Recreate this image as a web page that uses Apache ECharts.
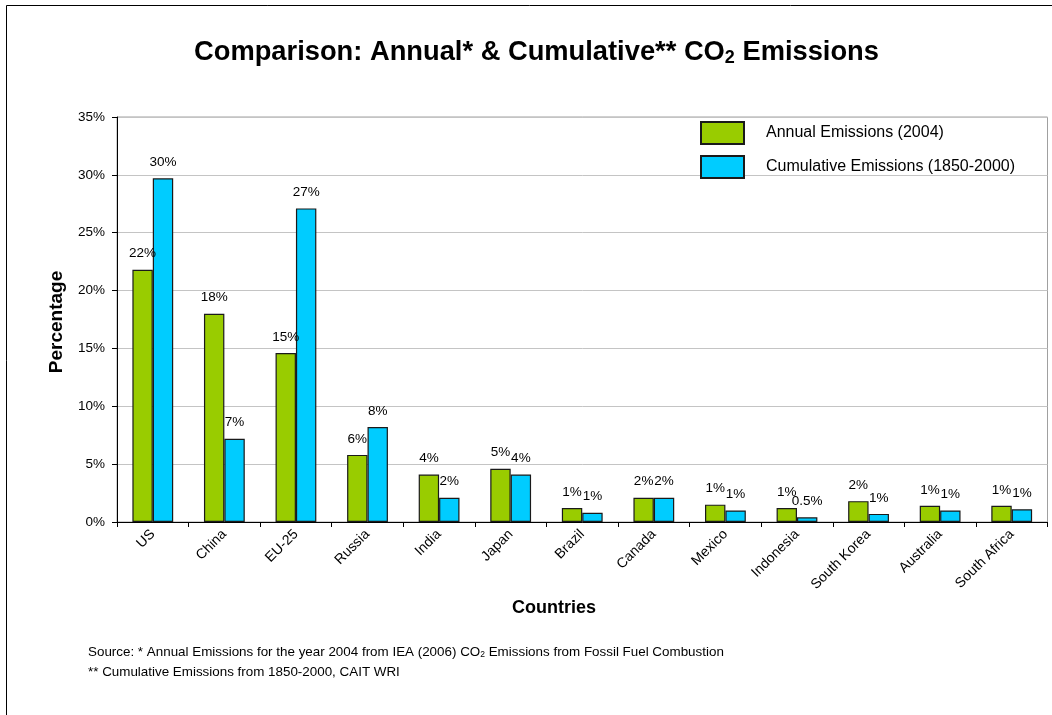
<!DOCTYPE html>
<html>
<head>
<meta charset="utf-8">
<script src="https://cdn.jsdelivr.net/npm/echarts@6/dist/echarts.min.js"></script>
<style>
html,body{margin:0;padding:0;background:#fff;}
#chart{width:1052px;height:715px;}
</style>
</head>
<body>
<div id="chart"></div>
<script>
const countries = ['US','China','EU-25','Russia','India','Japan','Brazil','Canada','Mexico','Indonesia','South Korea','Australia','South Africa'];
const annual = [21.8, 18.0, 14.6, 5.8, 4.1, 4.6, 1.2, 2.1, 1.5, 1.2, 1.8, 1.4, 1.4];
const cumulative = [29.7, 7.2, 27.1, 8.2, 2.1, 4.1, 0.8, 2.1, 1.0, 0.4, 0.7, 1.0, 1.1];
const annualLabels = ['22%','18%','15%','6%','4%','5%','1%','2%','1%','1%','2%','1%','1%'];
const cumulativeLabels = ['30%','7%','27%','8%','2%','4%','1%','2%','1%','0.5%','1%','1%','1%'];
const yTicks = [0, 5, 10, 15, 20, 25, 30, 35];

const FONT = 'Liberation Sans, Arial, sans-serif';
const chart = echarts.init(document.getElementById('chart'), null, {renderer: 'canvas'});

const option = {
  backgroundColor: '#fff',
  animation: false,
  textStyle: {fontFamily: FONT},
  title: {
    text: 'Comparison: Annual* & Cumulative** CO{sub|2} Emissions',
    left: 189,
    top: 32,
    textStyle: {
      fontFamily: FONT, fontSize: 27.3, fontWeight: 'bold', color: '#000',
      rich: {sub: {fontFamily: FONT, fontSize: 18, fontWeight: 'bold', color: '#000', padding: [12, 0, 0, 0]}}
    }
  },
  legend: {
    orient: 'vertical',
    left: 700,
    top: 121,
    itemWidth: 43,
    itemHeight: 22,
    itemGap: 10,
    icon: 'rect',
    padding: 0,
    textStyle: {fontFamily: FONT, fontSize: 16, color: '#000', padding: [0, 0, 0, 17]},
    data: ['Annual Emissions (2004)', 'Cumulative Emissions (1850-2000)']
  },
  grid: {
    left: 117, right: 4.5, top: 117, bottom: 193,
    show: true, borderColor: '#a0a0a0', borderWidth: 1
  },
  xAxis: {
    type: 'category',
    data: countries,
    axisLine: {lineStyle: {color: '#000', width: 1}},
    axisTick: {show: true, length: 5, lineStyle: {color: '#000'}},
    axisLabel: {rotate: 45, fontSize: 14, color: '#000', fontFamily: FONT, margin: 10, interval: 0}
  },
  yAxis: {
    type: 'value',
    min: 0, max: 35, interval: 5,
    axisLine: {show: true, lineStyle: {color: '#000', width: 1}},
    axisTick: {show: true, length: 5, lineStyle: {color: '#000'}},
    axisLabel: {fontSize: 13.5, color: '#000', fontFamily: FONT, margin: 12,
      formatter: v => yTicks.includes(v) ? v + '%' : ''},
    splitLine: {lineStyle: {color: '#c4c4c4', width: 1}}
  },
  series: [
    {
      name: 'Annual Emissions (2004)',
      type: 'bar',
      data: annual,
      barGap: '0%',
      barCategoryGap: '43%',
      itemStyle: {color: '#99cc00', borderColor: '#1a1a1a', borderWidth: 1.2},
      label: {show: true, position: 'top', distance: 9, fontSize: 13.5, color: '#000', fontFamily: FONT,
        formatter: p => annualLabels[p.dataIndex]}
    },
    {
      name: 'Cumulative Emissions (1850-2000)',
      type: 'bar',
      data: cumulative,
      barGap: '0%',
      barCategoryGap: '43%',
      itemStyle: {color: '#00ccff', borderColor: '#1a1a1a', borderWidth: 1.2},
      label: {show: true, position: 'top', distance: 9, fontSize: 13.5, color: '#000', fontFamily: FONT,
        formatter: p => cumulativeLabels[p.dataIndex]}
    }
  ],
  graphic: [
    {type: 'line', shape: {x1: 6.5, y1: 5.5, x2: 1052, y2: 5.5}, style: {stroke: '#000', lineWidth: 1}},
    {type: 'line', shape: {x1: 6.5, y1: 5.5, x2: 6.5, y2: 715}, style: {stroke: '#000', lineWidth: 1}},
    {type: 'text', x: 57, y: 322, rotation: Math.PI / 2,
      style: {text: 'Percentage', font: 'bold 19px ' + FONT, fill: '#000', align: 'center', verticalAlign: 'middle'}},
    {type: 'text', x: 554, y: 608,
      style: {text: 'Countries', font: 'bold 18px ' + FONT, fill: '#000', align: 'center', verticalAlign: 'middle'}},
    {type: 'text', x: 88, y: 652,
      style: {
        text: 'Source: * Annual Emissions for the year 2004 from IEA (2006) CO{s|2} Emissions from Fossil Fuel Combustion',
        font: '13.4px ' + FONT, fill: '#000', verticalAlign: 'middle',
        rich: {s: {fontSize: 8.5, fontFamily: FONT, fill: '#000', padding: [6, 0, 0, 0]}}
      }},
    {type: 'text', x: 88, y: 672,
      style: {text: '** Cumulative Emissions from 1850-2000, CAIT WRI', font: '13.4px ' + FONT, fill: '#000', verticalAlign: 'middle'}}
  ]
};
chart.setOption(option);
</script>
</body>
</html>
